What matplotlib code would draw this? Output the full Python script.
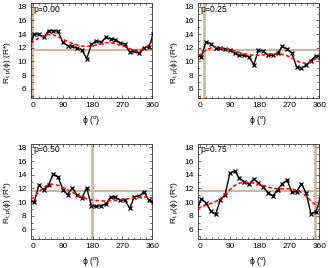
import matplotlib
matplotlib.use("Agg")
import matplotlib.pyplot as plt
from matplotlib.ticker import MultipleLocator

plt.rcParams["font.family"] = ["Liberation Sans", "DejaVu Sans"]
plt.rcParams["mathtext.fontset"] = "custom"
plt.rcParams["mathtext.rm"] = "Liberation Sans"
plt.rcParams["mathtext.it"] = "Liberation Sans:italic"

# measured bins (deg)
PHI = [3.6, 18.0, 32.4, 46.8, 61.2, 75.6, 90.0, 104.4, 118.8, 133.2, 147.6, 162.0,
       176.4, 190.8, 205.2, 219.6, 234.0, 248.4, 262.8, 277.2, 291.6, 306.0,
       320.4, 334.8, 349.2]

R_P000 = [14.0, 14.0, 13.5, 14.5, 14.5, 14.4, 12.8, 12.3, 12.2, 11.9, 11.7, 10.4,
          12.5, 13.0, 12.8, 13.5, 13.3, 13.2, 12.7, 12.5, 11.4, 11.5, 11.2, 12.0, 12.1]
R_P025 = [10.7, 12.8, 12.6, 12.0, 11.9, 11.8, 11.7, 11.2, 10.9, 10.9, 10.7, 9.5,
          11.6, 11.5, 10.9, 10.9, 11.2, 12.2, 11.8, 11.2, 9.2, 9.0, 9.5, 10.1, 10.8]
R_P050 = [10.0, 12.5, 11.8, 12.5, 14.1, 13.7, 11.8, 11.1, 12.1, 11.0, 10.6, 12.1,
          9.4, 9.4, 9.5, 9.7, 10.7, 10.7, 10.3, 10.3, 9.1, 10.8, 10.9, 11.5, 10.3]
R_P075 = [10.5, 9.9, 8.7, 8.2, 10.3, 11.1, 14.2, 14.6, 13.5, 13.0, 12.6, 13.4,
          12.8, 12.2, 11.4, 10.9, 11.8, 12.7, 13.2, 11.5, 11.5, 12.7, 11.3, 8.3, 8.6]

# smooth fit (red dashed)
FIT_PHI = [-7, 0, 20, 40, 60, 80, 100, 120, 140, 160, 180, 200, 220, 240, 260,
           280, 300, 320, 340, 360]
FIT_P000 = [12.6, 12.9, 13.5, 13.9, 13.9, 13.5, 13.0, 12.6, 12.3, 12.2, 12.3, 12.5,
            12.75, 12.7, 12.5, 12.1, 11.7, 11.6, 12.0, 12.9]
FIT_P025 = [10.9, 11.0, 11.7, 12.1, 12.0, 11.8, 11.6, 11.3, 11.0, 10.9, 10.9, 11.0,
            11.1, 11.1, 10.9, 10.4, 9.9, 9.7, 10.0, 10.9]
FIT_P050 = [10.4, 10.6, 11.6, 12.4, 12.6, 12.4, 11.9, 11.4, 10.9, 10.5, 10.3, 10.2,
            10.15, 10.2, 10.3, 10.45, 10.6, 10.75, 10.75, 10.6]
FIT_P075 = [9.0, 9.2, 9.6, 9.9, 10.4, 11.3, 12.3, 12.8, 12.9, 12.8, 12.6, 12.3,
            12.0, 11.95, 11.95, 11.9, 11.6, 10.9, 9.9, 9.3]

P_LABELS = ["p=0.00", "p=0.25", "p=0.50", "p=0.75"]
VLINE = [-3.0, 11.0, 178.0, 346.0]
HLINE = 11.6

TAN = "#cbb89d"

fig = plt.figure(figsize=(3.35, 2.68), dpi=100)
W, H = 335.0, 268.0
boxes = [(30.7, 3.3), (197.7, 3.3), (30.7, 144.0), (197.7, 144.0)]
aw, ah = 121.6, 95.0

series = [R_P000, R_P025, R_P050, R_P075]
fits = [FIT_P000, FIT_P025, FIT_P050, FIT_P075]

for i, (x0, y0) in enumerate(boxes):
    ax = fig.add_axes([x0 / W, 1 - (y0 + ah) / H, aw / W, ah / H])
    r = series[i]
    # periodic: wrap one bin on each side
    xs = [PHI[-1] - 360.0] + PHI + [PHI[0] + 360.0]
    ys = [r[-1]] + r + [r[0]]

    ax.axvline(VLINE[i], color=TAN, lw=1.9, zorder=1)
    ax.axhline(HLINE, color=TAN, lw=1.5, zorder=1)
    ax.plot(xs, ys, color="black", lw=1.0, marker="x", ms=2.6, mew=0.9, zorder=3)
    ax.plot(FIT_PHI, fits[i], color="#ff0000", lw=1.1, ls=(0, (2.5, 1.5)), zorder=4)

    ax.set_xlim(-7, 360)
    ax.set_ylim(4.6, 18.5)
    ax.xaxis.set_major_locator(MultipleLocator(90))
    ax.xaxis.set_minor_locator(MultipleLocator(18))
    ax.yaxis.set_major_locator(MultipleLocator(2))
    ax.yaxis.set_minor_locator(MultipleLocator(1))
    ax.set_yticks([6, 8, 10, 12, 14, 16, 18])
    ax.tick_params(which="both", direction="in", top=True, right=True,
                   labelsize=6, width=0.5, color="#333333", pad=3)
    ax.tick_params(which="major", length=2.5)
    ax.tick_params(which="minor", length=1.3)
    for sp in ax.spines.values():
        sp.set_linewidth(0.6)
        sp.set_color("#333333")

    ax.text(0.02, 0.985, P_LABELS[i], transform=ax.transAxes, fontsize=6.2,
            ha="left", va="top")
    ax.set_xlabel("ϕ ($^{\\rm o}$)", fontsize=6.2)
    ax.xaxis.set_label_coords(0.5, -0.165)
    ax.set_ylabel("R$_{\\rm t,p}$(ϕ) (R*)", fontsize=6.0)
    ax.yaxis.set_label_coords(-0.145, 0.38)

fig.savefig("out.png", dpi=100)
